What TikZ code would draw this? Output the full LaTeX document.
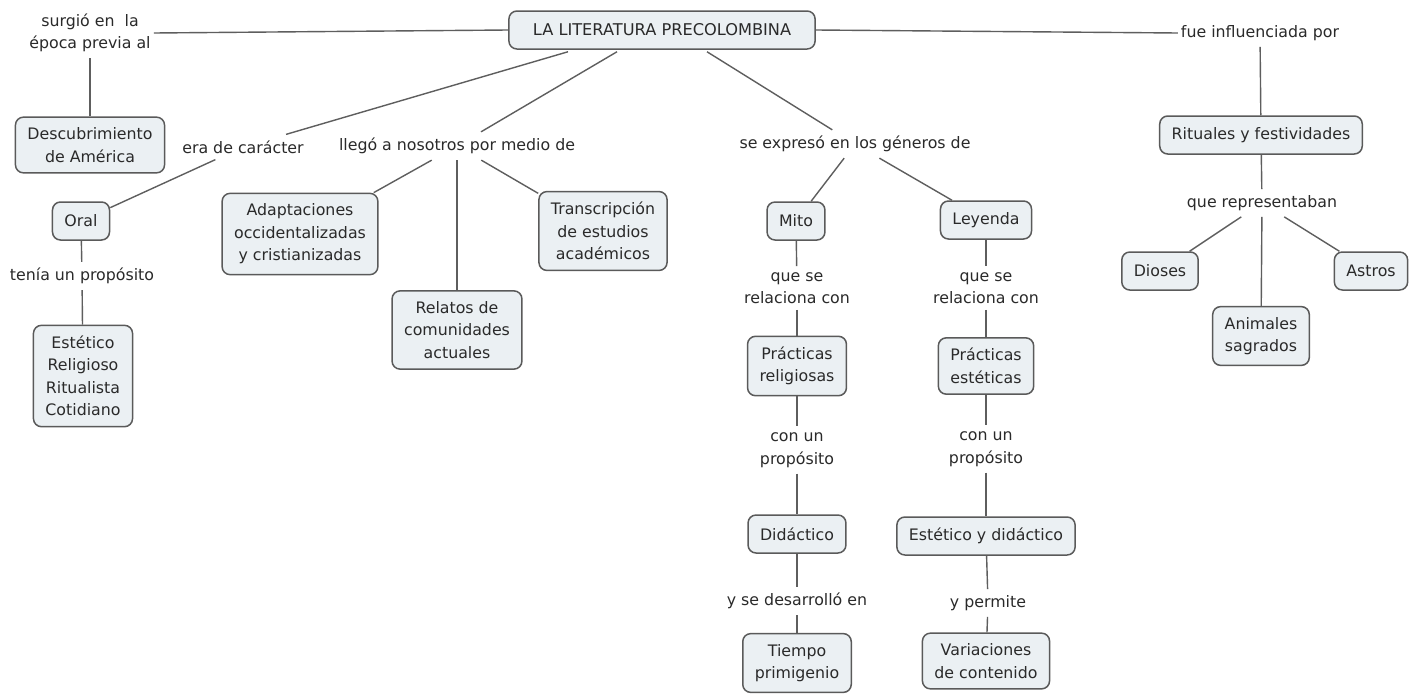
\documentclass[tikz,border=0pt]{standalone}
\usepackage{fontspec}
\setmainfont{DejaVu Sans}
\definecolor{boxfill}{HTML}{EBF0F3}
\definecolor{boxline}{HTML}{5A5A5A}
\definecolor{txt}{HTML}{2A2A2A}
\definecolor{lnk}{HTML}{5E5E5E}
\begin{document}
\begin{tikzpicture}[x=1pt,y=-1pt,
  box/.style={draw=boxline, fill=boxfill, rounded corners=8pt, line width=1.5pt,
    align=center, inner xsep=12pt, inner ysep=10.5pt, minimum height=38pt,
    text=txt, font=\fontsize{15.8}{22.5}\selectfont},
  lbl/.style={align=center, inner xsep=3pt, inner ysep=6pt, text=txt,
    font=\fontsize{15.8}{22.5}\selectfont},
  conn/.style={draw=lnk, line width=1.4pt}]
\useasboundingbox (0,0) rectangle (1422,696);
\fill[white] (0,0) rectangle (1422,696);

% nodes
\node[box, inner xsep=24pt, font=\fontsize{16.2}{22.5}\selectfont] (main) at (662,30) {LA LITERATURA PRECOLOMBINA};
\node[lbl] (surgio) at (90,33) {surgió en~ la\\época previa al};
\node[box] (desc) at (90,145) {Descubrimiento\\de América};
\node[lbl] (era) at (243,147) {era de carácter};
\node[box] (oral) at (81,221) {Oral};
\node[lbl] (tenia) at (82,276) {tenía un propósito};
\node[box] (estet) at (83,376) {Estético\\Religioso\\Ritualista\\Cotidiano};
\node[lbl] (llego) at (457,146) {llegó a nosotros por medio de};
\node[box] (adapt) at (300,234) {Adaptaciones\\occidentalizadas\\y cristianizadas};
\node[box] (relatos) at (457,330) {Relatos de\\comunidades\\actuales};
\node[box] (transc) at (603,231) {Transcripción\\de estudios\\académicos};
\node[lbl] (expreso) at (855,144) {se expresó en los géneros de};
\node[box] (mito) at (796,221) {Mito};
\node[box] (leyenda) at (986,220) {Leyenda};
\node[lbl] (rel1) at (797,288) {que se\\relaciona con};
\node[lbl] (rel2) at (986,288) {que se\\relaciona con};
\node[box] (prel) at (797,366) {Prácticas\\religiosas};
\node[box] (pest) at (986,366) {Prácticas\\estéticas};
\node[lbl] (prop1) at (797,450) {con un\\propósito};
\node[lbl] (prop2) at (986,449) {con un\\propósito};
\node[box] (didac) at (797,534) {Didáctico};
\node[box] (estdid) at (986,536) {Estético y didáctico};
\node[lbl] (desarr) at (797,601) {y se desarrolló en};
\node[lbl] (permite) at (988,603) {y permite};
\node[box] (tiempo) at (797,663) {Tiempo\\primigenio};
\node[box] (variac) at (986,661) {Variaciones\\de contenido};
\node[lbl] (fue) at (1260,33) {fue influenciada por};
\node[box] (rituales) at (1261,135) {Rituales y festividades};
\node[lbl] (querep) at (1262,203) {que representaban};
\node[box] (dioses) at (1160,271) {Dioses};
\node[box] (astros) at (1371,271) {Astros};
\node[box] (animales) at (1261,336) {Animales\\sagrados};

% connectors
\draw[conn] (main.west) -- (surgio.east);
\draw[conn] (surgio) -- (desc);
\draw[conn] ([xshift=-94pt,yshift=-2pt]main.south) -- (era);
\draw[conn] (era) -- (oral);
\draw[conn] (oral) -- (tenia);
\draw[conn] (tenia) -- (estet);
\draw[conn] ([xshift=-45pt,yshift=-2pt]main.south) -- (llego);
\draw[conn] (llego) -- (adapt);
\draw[conn] (llego) -- (relatos);
\draw[conn] (llego) -- (transc);
\draw[conn] ([xshift=45pt,yshift=-2pt]main.south) -- (expreso);
\draw[conn] (expreso) -- (mito);
\draw[conn] (expreso) -- (leyenda);
\draw[conn] (mito) -- (rel1);
\draw[conn] (rel1) -- (prel);
\draw[conn] (prel) -- (prop1);
\draw[conn] (prop1) -- (didac);
\draw[conn] (didac) -- (desarr);
\draw[conn] (desarr) -- (tiempo);
\draw[conn] (leyenda) -- (rel2);
\draw[conn] (rel2) -- (pest);
\draw[conn] (pest) -- (prop2);
\draw[conn] (prop2) -- (estdid);
\draw[conn] (estdid) -- (permite);
\draw[conn] (permite) -- (variac);
\draw[conn] (main.east) -- (fue.west);
\draw[conn] (fue) -- (rituales);
\draw[conn] (rituales) -- (querep);
\draw[conn] (querep) -- (dioses);
\draw[conn] (querep) -- (animales);
\draw[conn] (querep) -- (astros);
\end{tikzpicture}
\end{document}
